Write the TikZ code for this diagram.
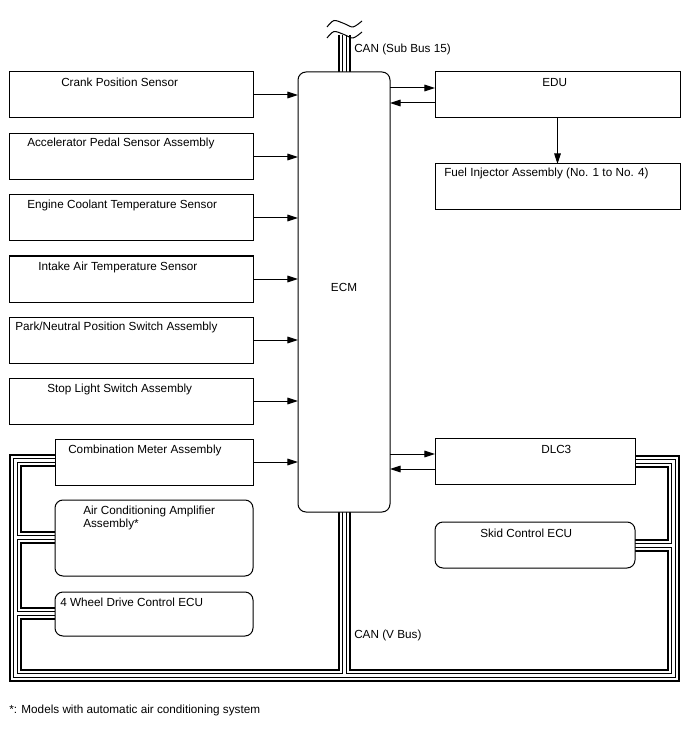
\documentclass[tikz,border=0pt]{standalone}
\usepackage{fontspec}
\setmainfont{Liberation Sans}
\usetikzlibrary{arrows.meta,backgrounds,calc}
\begin{document}
\begin{tikzpicture}[x=0.75pt,y=-0.75pt,
  box/.style={draw, line width=0.75pt, fill=white, inner sep=0pt, outer sep=0pt, anchor=north west},
  rbox/.style={box, rounded corners=6pt},
  sensor/.style={box, minimum width=183pt, minimum height=34.5pt},
  arr/.style={-{Triangle[length=8pt,width=5pt]}, line width=0.75pt},
  lbl/.style={anchor=base west, inner sep=0pt, font=\fontsize{8.8pt}{11pt}\selectfont},
  bus/.style={draw=black, line width=9.75pt,
    postaction={draw=white, line width=6.75pt},
    postaction={draw=black, line width=3.75pt},
    postaction={draw=white, line width=2.25pt}},
  wave/.style={line width=0.75pt}]
\useasboundingbox (0,0) rectangle (688,755);
% boxes
\node[sensor] (crank) at (9,72) {};
\node[sensor] (accel) at (9,134) {};
\node[sensor] (cool) at (9,195) {};
\node[sensor] (intake) at (9,256) {};
\node[sensor] (park) at (9,317) {};
\node[sensor] (stop) at (9,378) {};
\node[box, minimum width=148.5pt, minimum height=34.5pt] (combo) at (55,439) {};
\node[rbox, minimum width=148.5pt, minimum height=57pt] (ac) at (55,500) {};
\node[rbox, minimum width=148.5pt, minimum height=33pt] (wd) at (55,592) {};
\node[rbox, minimum width=69pt, minimum height=330pt] (ecm) at (298,72) {};
\node[box, minimum width=183.75pt, minimum height=34.5pt] (edu) at (435,72) {};
\node[box, minimum width=183.75pt, minimum height=34.5pt] (fuel) at (435,164) {};
\node[box, minimum width=150pt, minimum height=34.5pt] (dlc) at (435,438) {};
\node[rbox, minimum width=150pt, minimum height=34.5pt] (skid) at (435,522) {};
% bus coordinates
\coordinate (c460) at (0,460);
\coordinate (c461) at (0,461);
\coordinate (c537) at (0,537);
\coordinate (c613) at (0,613);
\coordinate (c545) at (0,545);
\coordinate (c675) at (0,675);
\coordinate (subtop) at (344,35);
\begin{pgfonlayer}{background}
\path[bus] (combo.west |- c460) -- (15.5,460) -- (15.5,675) -- (673,675) -- (673,461) -- (dlc.east |- c461)
  (15.5,537) -- (ac.west |- c537)
  (15.5,613) -- (wd.west |- c613)
  (673,545) -- (skid.east |- c545)
  (ecm.south) -- (ecm.south |- c675);
\path[bus] (ecm.north) -- (subtop);
\end{pgfonlayer}
% waves
\draw[wave] plot[smooth] coordinates {(327,27) (334,20.5) (344,23.5) (353,27) (362,21)};
\draw[wave] plot[smooth] coordinates {(327,38) (334,31.5) (344,34.5) (353,38) (362,32)};
% arrows
\foreach \s in {crank,accel,cool,intake,park,stop,combo}
  \draw[arr] (\s.east) -- (\s.east -| ecm.west);
\draw[arr] ($(ecm.east |- edu.west)+(0,-7)$) -- ($(edu.west)+(0,-7)$);
\draw[arr] ($(edu.west)+(0,8)$) -- ($(ecm.east |- edu.west)+(0,8)$);
\draw[arr] ($(ecm.east |- dlc.west)+(0,-7)$) -- ($(dlc.west)+(0,-7)$);
\draw[arr] ($(dlc.west)+(0,8)$) -- ($(ecm.east |- dlc.west)+(0,8)$);
\draw[arr] (edu.south) -- (fuel.north);
% labels
\node[lbl] (tcrank) at (61,87) {Crank Position Sensor};
\node[lbl] (taccel) at (27,147) {Accelerator Pedal Sensor Assembly};
\node[lbl] (tcool) at (27,209) {Engine Coolant Temperature Sensor};
\node[lbl] (tintake) at (38,270) {Intake Air Temperature Sensor};
\node[lbl] (tpark) at (15,330) {Park/Neutral Position Switch Assembly};
\node[lbl] (tstop) at (47,392) {Stop Light Switch Assembly};
\node[lbl] (tcombo) at (68,453) {Combination Meter Assembly};
\node[lbl] (tac1) at (83,514) {Air Conditioning Amplifier};
\node[lbl] (tac2) at (83,527) {Assembly*};
\node[lbl] (twd) at (60,606) {4 Wheel Drive Control ECU};
\node[lbl, anchor=base] (tecm) at (344,291) {ECM};
\node[lbl] (tedu) at (542,87) {EDU};
\node[lbl] (tfuel) at (444,177) {Fuel Injector Assembly (No. 1 to No. 4)};
\node[lbl] (tdlc) at (541,453) {DLC3};
\node[lbl] (tskid) at (480,537) {Skid Control ECU};
\node[lbl] (tcansub) at (354,53) {CAN (Sub Bus 15)};
\node[lbl] (tcanv) at (354,638) {CAN (V Bus)};
\node[lbl] (tnote) at (9,713) {*: Models with automatic air conditioning system};
\end{tikzpicture}
\end{document}
